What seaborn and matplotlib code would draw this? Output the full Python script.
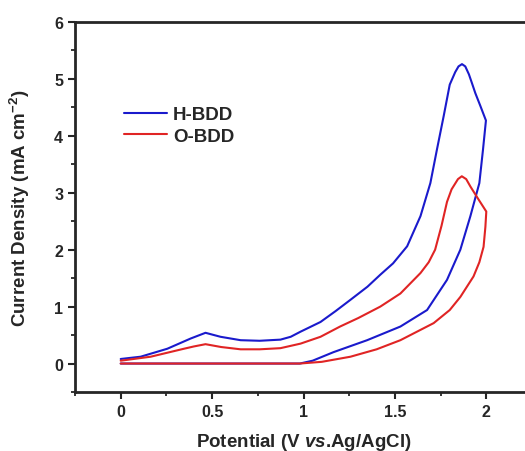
import numpy as np
import pandas as pd
import matplotlib
matplotlib.use('Agg')
import matplotlib.pyplot as plt
import seaborn as sns
from matplotlib.ticker import MultipleLocator

# CV loops (forward scan, then reverse scan)
h_bdd_x = [0.0, 0.5, 0.9, 0.98, 1.05, 1.164, 1.348, 1.53, 1.676, 1.785, 1.858, 1.913,
           1.962, 1.982, 1.998,
           1.967, 1.94, 1.92, 1.905, 1.885, 1.867, 1.848, 1.83, 1.80, 1.767, 1.73, 1.694,
           1.64, 1.567, 1.49, 1.42, 1.35, 1.257, 1.175, 1.093, 0.984, 0.93, 0.874, 0.76,
           0.656, 0.546, 0.464, 0.383, 0.255, 0.109, 0.0]
h_bdd_y = [0.0, 0.0, 0.0, 0.0, 0.05, 0.2, 0.41, 0.65, 0.94, 1.47, 2.0, 2.59,
           3.17, 3.76, 4.27,
           4.53, 4.75, 4.94, 5.08, 5.22, 5.26, 5.22, 5.12, 4.90, 4.35, 3.76, 3.17,
           2.59, 2.06, 1.76, 1.56, 1.35, 1.12, 0.92, 0.73, 0.56, 0.47, 0.42, 0.40,
           0.41, 0.47, 0.54, 0.44, 0.26, 0.12, 0.08]

o_bdd_x = [0.0, 0.5, 0.9, 0.98, 1.10, 1.257, 1.40, 1.53, 1.712, 1.80, 1.858, 1.93,
           1.962, 1.985, 1.995, 2.0,
           1.958, 1.913, 1.89, 1.866, 1.845, 1.81, 1.785, 1.755, 1.72, 1.685, 1.64,
           1.53, 1.42, 1.30, 1.20, 1.093, 0.984, 0.874, 0.76, 0.656, 0.55, 0.464,
           0.40, 0.346, 0.164, 0.0]
o_bdd_y = [0.0, 0.0, 0.0, 0.0, 0.03, 0.12, 0.25, 0.41, 0.71, 0.94, 1.17, 1.53,
           1.78, 2.05, 2.40, 2.67,
           2.88, 3.11, 3.24, 3.29, 3.24, 3.06, 2.84, 2.42, 2.0, 1.78, 1.59,
           1.23, 1.0, 0.80, 0.65, 0.47, 0.35, 0.27, 0.25, 0.25, 0.29, 0.34,
           0.30, 0.26, 0.12, 0.05]

sns.set_style('ticks')
plt.rcParams['font.family'] = ['Liberation Sans', 'DejaVu Sans']
plt.rcParams['font.weight'] = 'bold'
plt.rcParams['mathtext.fontset'] = 'custom'
plt.rcParams['mathtext.rm'] = 'Liberation Sans:bold'
plt.rcParams['mathtext.it'] = 'Liberation Sans:italic:bold'

fig = plt.figure(figsize=(5.25, 4.52), dpi=100)
ax = fig.add_axes([75 / 525, 59 / 452, 457 / 525, 370 / 452])

h_df = pd.DataFrame({'x': h_bdd_x, 'y': h_bdd_y})
o_df = pd.DataFrame({'x': o_bdd_x, 'y': o_bdd_y})
sns.lineplot(data=h_df, x='x', y='y', sort=False, estimator=None, color='#1a1acc',
             lw=1.5, label='H-BDD', ax=ax)
sns.lineplot(data=o_df, x='x', y='y', sort=False, estimator=None, color='#e02424',
             lw=1.5, label='O-BDD', ax=ax)

ax.set_xlim(-0.25, 2.25)
ax.set_ylim(-0.5, 6)
ax.xaxis.set_minor_locator(MultipleLocator(0.25))
ax.yaxis.set_major_locator(MultipleLocator(1))
ax.yaxis.set_minor_locator(MultipleLocator(0.5))
ax.set_xticks([0, 0.5, 1, 1.5, 2])
ax.set_xticklabels(['0', '0.5', '1', '1.5', '2'])
ax.tick_params(which='major', direction='out', length=5, width=1.5, labelsize=11.5)
ax.tick_params(which='minor', direction='out', length=3, width=1.3)
for lab in ax.get_xticklabels() + ax.get_yticklabels():
    lab.set_fontweight('bold')
for side in ['left', 'bottom', 'top']:
    ax.spines[side].set_linewidth(2)
ax.spines['right'].set_visible(False)

ax.set_xlabel('Potential (V $\\it{vs}$.Ag/AgCl)', fontsize=13.5, fontweight='bold')
ax.set_ylabel('Current Density (mA cm$^{-2}$)', fontsize=13.5, fontweight='bold')
ax.xaxis.set_label_coords(0.5, -0.105)
ax.yaxis.set_label_coords(-0.095, 0.5)

leg = ax.legend(loc='upper left', bbox_to_anchor=(124 / 525, 1 - 107 / 452),
                bbox_transform=fig.transFigure, frameon=False, borderpad=0,
                borderaxespad=0, handlelength=2.3, handletextpad=0.3, labelspacing=0.25,
                prop={'weight': 'bold', 'size': 13.5})

fig.savefig('out.png', dpi=100)
